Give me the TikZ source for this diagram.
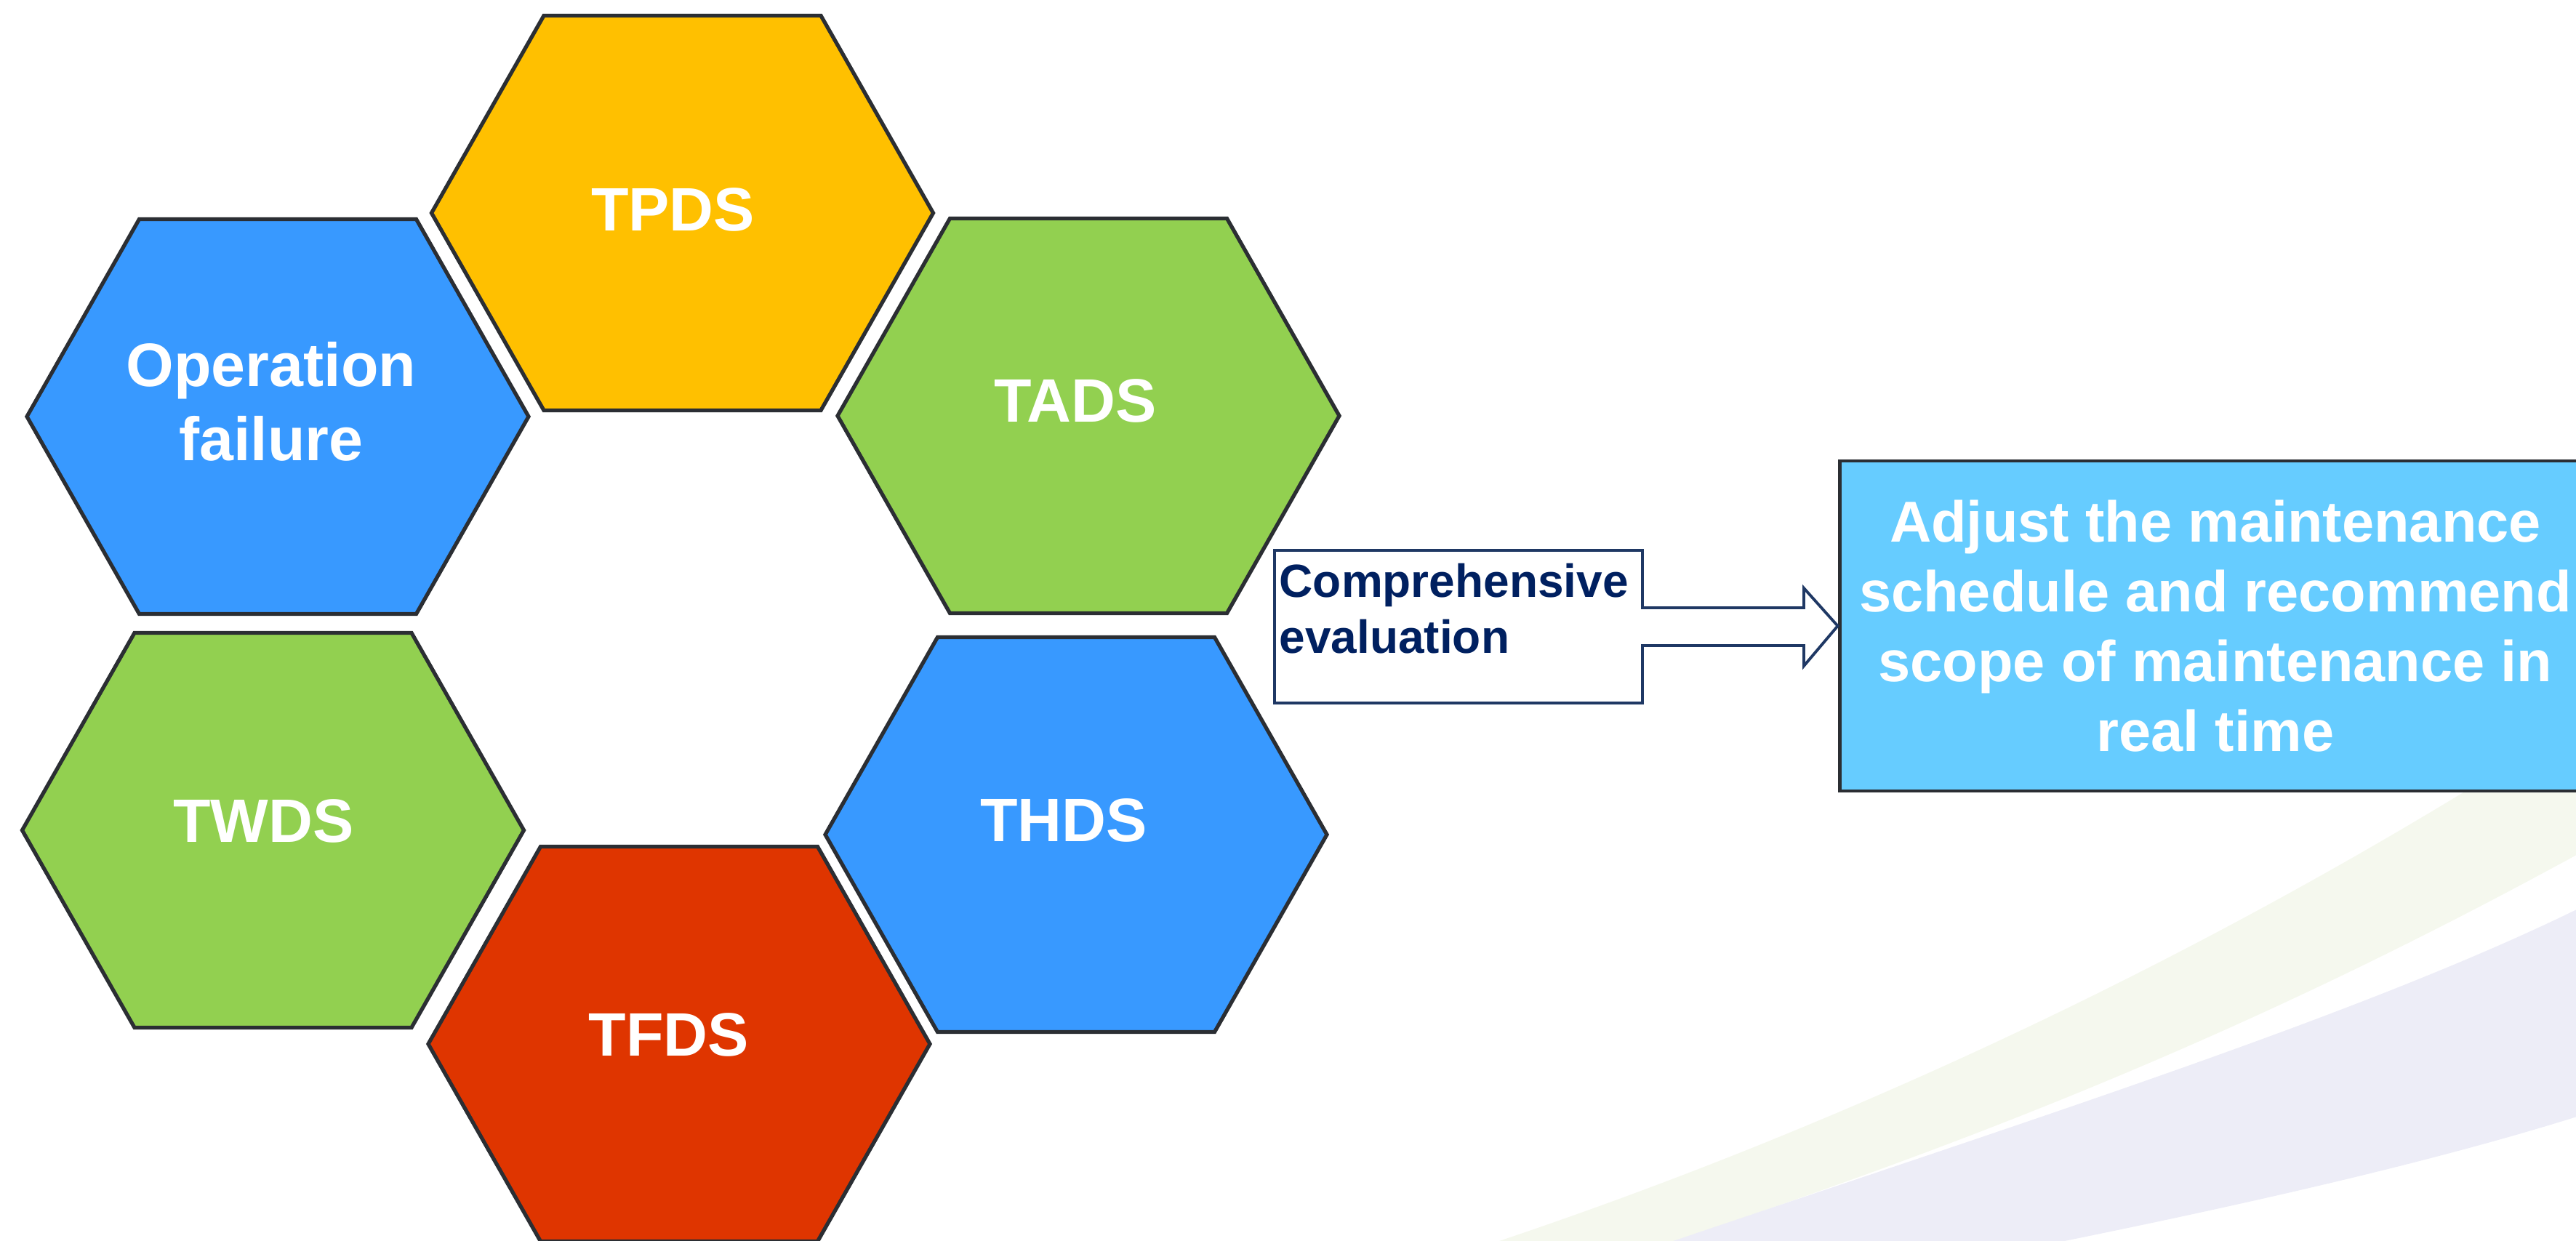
\documentclass[tikz,border=0pt]{standalone}
\usepackage{fontspec}
\setmainfont{Liberation Sans}
\usepackage{xcolor}
\definecolor{hexyellow}{HTML}{FFC000}
\definecolor{hexgreen}{HTML}{92D050}
\definecolor{hexblue}{HTML}{3899FF}
\definecolor{hexred}{HTML}{DF3500}
\definecolor{planblue}{HTML}{66CCFF}
\definecolor{edgegray}{HTML}{2B2E33}
\definecolor{navy}{HTML}{002060}
\definecolor{navyline}{HTML}{1F3864}
\definecolor{swooshgreen}{HTML}{F5F8EE}
\definecolor{swooshlilac}{HTML}{EDEDF7}
\usepackage{tikz}

\begin{document}
\begin{tikzpicture}[x=1cm, y=1cm,
    cell/.style={draw=edgegray, line width=1.5pt},
    celltext/.style={text=white, align=center, font=\bfseries\fontsize{24}{29}\selectfont},
    planbox/.style={draw=edgegray, line width=1.4pt, fill=planblue, text=white, align=center,
      font=\bfseries\fontsize{22.6}{27.3}\selectfont},
    noteline/.style={draw=navyline, line width=1.1pt, fill=white},
    notetext/.style={text=navy, align=left, inner sep=0pt, font=\bfseries\fontsize{18.2}{21.9}\selectfont}]

      \useasboundingbox (0,0) rectangle (35.43,17.07);
      \clip (0,0) rectangle (35.43,17.07);

      % pale swooshes in the corner
      \fill [swooshgreen] (20.32,-0.1) .. controls (25.32,1.55) and (30.6,4.0) .. (35.6,7.25)
        -- (35.6,5.40) .. controls (31.1,2.925) and (27.22,1.385) .. (22.72,-0.1) -- cycle;
      \fill [swooshlilac] (22.72,-0.1) .. controls (27.72,1.6) and (32.6,3.14) .. (35.6,4.64)
        -- (35.6,1.76) .. controls (33.6,1.12) and (30.9,0.5) .. (27.9,-0.1) -- cycle;

      % six cells: half width, half top edge, half height
      \newcommand\cellhw{3.45}
      \newcommand\cellhb{1.905}
      \newcommand\cellhh{2.715}
      \foreach \nm/\cx/\cy/\dx/\dy/\col/\txt in {tpds/9.385/14.14/-0.13/0.05/hexyellow/TPDS,
          opfail/3.82/11.34/-0.09/0.21/hexblue/{Operation\\failure},
          tads/14.97/11.35/-0.18/0.21/hexgreen/TADS,
          twds/3.755/5.65/-0.13/0.13/hexgreen/TWDS,
          thds/14.80/5.59/-0.17/0.20/hexblue/THDS,
          tfds/9.34/2.71/-0.14/0.13/hexred/TFDS} {
        \filldraw [cell, fill=\col] (\cx-\cellhw,\cy) -- (\cx-\cellhb,\cy+\cellhh) -- (\cx+\cellhb,\cy+\cellhh)
          -- (\cx+\cellhw,\cy) -- (\cx+\cellhb,\cy-\cellhh) -- (\cx-\cellhb,\cy-\cellhh) -- cycle;
        \node [celltext] (\nm) at (\cx+\dx,\cy+\dy) {\txt};
      }

      % result box, runs off the right edge
      \node [planbox, minimum width=10.34cm, minimum height=4.54cm] (plan) at (30.47,8.46)
        {Adjust the maintenance\\schedule and recommend\\scope of maintenance in\\real time};

      % callout with its arrow pointing at the box
      \draw [noteline] (17.53,9.50) -- (22.59,9.50) -- (22.59,8.71) -- (24.81,8.71) -- (24.81,8.98)
        -- (plan.west) -- (24.81,7.91) -- (24.81,8.19) -- (22.59,8.19) -- (22.59,7.40) -- (17.53,7.40) -- cycle;
      \node [notetext, anchor=north west] (evalnote) at (17.59,9.33) {Comprehensive\\evaluation};

    \end{tikzpicture}
\end{document}
